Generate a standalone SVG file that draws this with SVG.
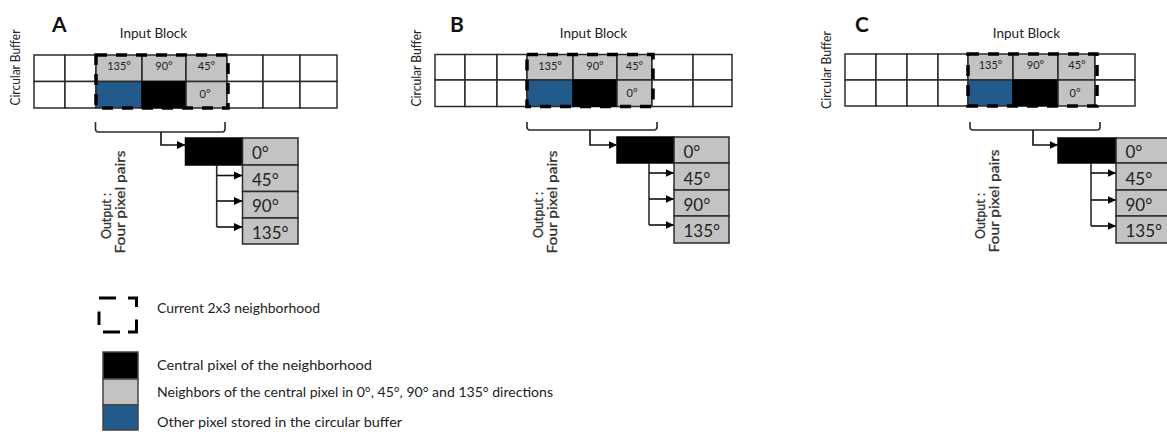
<svg xmlns="http://www.w3.org/2000/svg" width="1167" height="432" viewBox="0 0 1167 432">
<defs>
<style>
.w{fill:#ffffff;stroke:#2b2b2b;stroke-width:1.5}
.g{fill:#c3c3c3;stroke:#2b2b2b;stroke-width:1.5}
.k{fill:#000000;stroke:#000000;stroke-width:1.5}
.b{fill:#235a8c;stroke:#2b2b2b;stroke-width:1.5}
.dash{fill:none;stroke:#000;stroke-width:3.5;stroke-dasharray:11 9}
.ldash{fill:none;stroke:#000;stroke-width:3}
.con{fill:none;stroke:#2b2b2b;stroke-width:1.6}
.arr{fill:none;stroke:#111;stroke-width:1.6;marker-end:url(#ah)}
.t{font-family:Lato,"Liberation Sans",sans-serif;fill:#222}
.cell{font-size:11px;text-anchor:middle}
.out{font-size:17px}
.lab{font-size:21px;font-weight:bold;fill:#111}
.ib{font-size:13.5px;text-anchor:middle}
.cb{font-size:13px;text-anchor:middle}
.op{font-size:13px;text-anchor:middle;fill:#333;stroke:#333;stroke-width:0.3}
.leg{font-size:13px}
</style>
<marker id="ah" markerWidth="9" markerHeight="9" refX="8" refY="4.5" orient="auto" markerUnits="userSpaceOnUse">
<path d="M0,0.5 L8.5,4.5 L0,8.5 Z" fill="#000"/>
</marker>
</defs>
<rect width="1167" height="432" fill="#fff"/>

<!-- Panel A -->
<g id="panelA-labels">
<text class="t lab" x="52" y="32">A</text>
<text class="t ib" x="153.5" y="38">Input Block</text>
<text class="t cb" transform="translate(20,67.5) rotate(-90)" textLength="76" lengthAdjust="spacingAndGlyphs">Circular Buffer</text>
<text class="t op" transform="translate(111,216) rotate(-90)" textLength="46" lengthAdjust="spacingAndGlyphs">Output :</text>
<text class="t op" transform="translate(125,202) rotate(-90)" textLength="103" lengthAdjust="spacingAndGlyphs">Four pixel pairs</text>
</g>
<g id="panelA-buffer">
<rect class="w" x="34" y="55" width="31" height="26.5"/>
<rect class="w" x="65" y="55" width="31" height="26.5"/>
<rect class="g" x="96" y="55" width="46" height="26.5"/>
<rect class="g" x="142" y="55" width="44" height="26.5"/>
<rect class="g" x="186" y="55" width="41" height="26.5"/>
<rect class="w" x="227" y="55" width="36" height="26.5"/>
<rect class="w" x="263" y="55" width="37" height="26.5"/>
<rect class="w" x="300" y="55" width="37" height="26.5"/>
<rect class="w" x="34" y="81.5" width="31" height="26.5"/>
<rect class="w" x="65" y="81.5" width="31" height="26.5"/>
<rect class="b" x="96" y="81.5" width="46" height="26.5"/>
<rect class="k" x="142" y="81.5" width="44" height="26.5"/>
<rect class="g" x="186" y="81.5" width="41" height="26.5"/>
<rect class="w" x="227" y="81.5" width="36" height="26.5"/>
<rect class="w" x="263" y="81.5" width="37" height="26.5"/>
<rect class="w" x="300" y="81.5" width="37" height="26.5"/>
<text class="t cell" x="119" y="70">135°</text>
<text class="t cell" x="164" y="70">90°</text>
<text class="t cell" x="206.5" y="70">45°</text>
<text class="t cell" x="205" y="98">0°</text>
<rect class="dash" x="96" y="55" width="132" height="53"/>
</g>
<g id="panelA-output">
<rect class="k" x="185.5" y="138" width="57" height="27"/>
<rect class="g" x="242.5" y="138" width="55.5" height="27"/>
<rect class="g" x="242.5" y="165" width="55.5" height="26.5"/>
<rect class="g" x="242.5" y="191.5" width="55.5" height="26.5"/>
<rect class="g" x="242.5" y="218" width="55.5" height="26"/>
<text class="t out" x="252" y="159">0°</text>
<text class="t out" x="252" y="186">45°</text>
<text class="t out" x="252" y="212">90°</text>
<text class="t out" x="252" y="238.5">135°</text>
</g>

<!-- Panel B -->
<g id="panelB-labels">
<text class="t lab" x="450" y="32">B</text>
<text class="t ib" x="593.5" y="38">Input Block</text>
<text class="t cb" transform="translate(421,68) rotate(-90)" textLength="77" lengthAdjust="spacingAndGlyphs">Circular Buffer</text>
<text class="t op" transform="translate(542.5,215) rotate(-90)" textLength="46" lengthAdjust="spacingAndGlyphs">Output :</text>
<text class="t op" transform="translate(557,202) rotate(-90)" textLength="103" lengthAdjust="spacingAndGlyphs">Four pixel pairs</text>
</g>
<g id="panelB-buffer">
<rect class="w" x="435" y="54.5" width="30" height="25.5"/>
<rect class="w" x="465" y="54.5" width="32" height="25.5"/>
<rect class="w" x="497" y="54.5" width="30" height="25.5"/>
<rect class="g" x="527" y="54.5" width="46" height="25.5"/>
<rect class="g" x="573" y="54.5" width="44" height="25.5"/>
<rect class="g" x="617" y="54.5" width="35" height="25.5"/>
<rect class="w" x="652" y="54.5" width="41" height="25.5"/>
<rect class="w" x="693" y="54.5" width="39" height="25.5"/>
<rect class="w" x="435" y="80" width="30" height="26.5"/>
<rect class="w" x="465" y="80" width="32" height="26.5"/>
<rect class="w" x="497" y="80" width="30" height="26.5"/>
<rect class="b" x="527" y="80" width="46" height="26.5"/>
<rect class="k" x="573" y="80" width="44" height="26.5"/>
<rect class="g" x="617" y="80" width="35" height="26.5"/>
<rect class="w" x="652" y="80" width="41" height="26.5"/>
<rect class="w" x="693" y="80" width="39" height="26.5"/>
<text class="t cell" x="550" y="69.5">135°</text>
<text class="t cell" x="595" y="69.5">90°</text>
<text class="t cell" x="634.5" y="69.5">45°</text>
<text class="t cell" x="632" y="97">0°</text>
<rect class="dash" x="527" y="54.5" width="126" height="52"/>
</g>
<g id="panelB-output">
<rect class="k" x="617" y="137" width="57" height="26"/>
<rect class="g" x="674" y="137" width="55" height="26"/>
<rect class="g" x="674" y="163" width="55" height="27"/>
<rect class="g" x="674" y="190" width="55" height="26"/>
<rect class="g" x="674" y="216" width="55" height="27"/>
<text class="t out" x="683.5" y="158">0°</text>
<text class="t out" x="683.5" y="185">45°</text>
<text class="t out" x="683.5" y="211">90°</text>
<text class="t out" x="683.5" y="237">135°</text>
</g>

<!-- Panel C -->
<g id="panelC-labels">
<text class="t lab" x="855" y="32">C</text>
<text class="t ib" x="1026.5" y="38">Input Block</text>
<text class="t cb" transform="translate(831,70) rotate(-90)" textLength="78" lengthAdjust="spacingAndGlyphs">Circular Buffer</text>
<text class="t op" transform="translate(984.5,216) rotate(-90)" textLength="46" lengthAdjust="spacingAndGlyphs">Output :</text>
<text class="t op" transform="translate(999,201) rotate(-90)" textLength="103" lengthAdjust="spacingAndGlyphs">Four pixel pairs</text>
</g>
<g id="panelC-buffer">
<rect class="w" x="845" y="54" width="31" height="26"/>
<rect class="w" x="876" y="54" width="31" height="26"/>
<rect class="w" x="907" y="54" width="31" height="26"/>
<rect class="w" x="938" y="54" width="30" height="26"/>
<rect class="g" x="968" y="54" width="45" height="26"/>
<rect class="g" x="1013" y="54" width="45" height="26"/>
<rect class="g" x="1058" y="54" width="37" height="26"/>
<rect class="w" x="1095" y="54" width="40" height="26"/>
<rect class="w" x="845" y="80" width="31" height="26"/>
<rect class="w" x="876" y="80" width="31" height="26"/>
<rect class="w" x="907" y="80" width="31" height="26"/>
<rect class="w" x="938" y="80" width="30" height="26"/>
<rect class="b" x="968" y="80" width="45" height="26"/>
<rect class="k" x="1013" y="80" width="45" height="26"/>
<rect class="g" x="1058" y="80" width="37" height="26"/>
<rect class="w" x="1095" y="80" width="40" height="26"/>
<text class="t cell" x="990.5" y="69">135°</text>
<text class="t cell" x="1035.5" y="69">90°</text>
<text class="t cell" x="1077" y="69">45°</text>
<text class="t cell" x="1075" y="97">0°</text>
<rect class="dash" x="968" y="54" width="129" height="52"/>
</g>
<g id="panelC-output">
<rect class="k" x="1058" y="138" width="58" height="25"/>
<rect class="g" x="1116" y="138" width="55" height="25"/>
<rect class="g" x="1116" y="163" width="55" height="27"/>
<rect class="g" x="1116" y="190" width="55" height="26"/>
<rect class="g" x="1116" y="216" width="55" height="27"/>
<text class="t out" x="1125.5" y="158">0°</text>
<text class="t out" x="1125.5" y="185">45°</text>
<text class="t out" x="1125.5" y="211">90°</text>
<text class="t out" x="1125.5" y="237">135°</text>
</g>

<!-- Connectors -->
<g id="connectors">
<path class="con" d="M95.5,122 V129 Q95.5,132 98.5,132 H222 Q225,132 225,129 V122"/>
<path class="arr" d="M161,132 V145 H185"/>
<path class="con" d="M216.7,165 V227"/>
<path class="arr" d="M216.7,175.5 H242"/>
<path class="arr" d="M216.7,201 H242"/>
<path class="arr" d="M216.7,227 H242"/>

<path class="con" d="M527,122 V127 Q527,130 530,130 H654 Q657,130 657,127 V122"/>
<path class="arr" d="M590,130 V145 H616.5"/>
<path class="con" d="M649,163 V225"/>
<path class="arr" d="M649,173 H673.5"/>
<path class="arr" d="M649,199 H673.5"/>
<path class="arr" d="M649,225 H673.5"/>

<path class="con" d="M970,122 V127 Q970,130 973,130 H1097 Q1100,130 1100,127 V122"/>
<path class="arr" d="M1033,130 V145 H1057.5"/>
<path class="con" d="M1091,163 V226"/>
<path class="arr" d="M1091,173 H1115.5"/>
<path class="arr" d="M1091,200 H1115.5"/>
<path class="arr" d="M1091,226 H1115.5"/>
</g>

<!-- Legend -->
<g id="legend-neighborhood">
<path class="ldash" d="M99,298 H116"/>
<path class="ldash" d="M128,298 H136.5 V307"/>
<path class="ldash" d="M99,311.5 V325"/>
<path class="ldash" d="M103,332 H120"/>
<path class="ldash" d="M128,332 H136.5 V319.5"/>
<text class="t leg" x="157" y="313" textLength="163" lengthAdjust="spacingAndGlyphs">Current 2x3 neighborhood</text>
</g>
<g id="legend-central">
<rect class="k" x="103" y="352" width="35" height="27" style="stroke:#444"/>
<text class="t leg" x="157" y="370" textLength="215" lengthAdjust="spacingAndGlyphs">Central pixel of the  neighborhood</text>
</g>
<g id="legend-neighbors">
<rect class="g" x="103" y="379" width="35" height="26" style="stroke:#444"/>
<text class="t leg" x="157" y="397" textLength="396" lengthAdjust="spacingAndGlyphs">Neighbors of the central pixel in 0°, 45°, 90° and 135° directions</text>
</g>
<g id="legend-other">
<rect class="b" x="103" y="405" width="35" height="25" style="stroke:#444"/>
<text class="t leg" x="157" y="427" textLength="245" lengthAdjust="spacingAndGlyphs">Other pixel stored in the circular buffer</text>
</g>
</svg>
